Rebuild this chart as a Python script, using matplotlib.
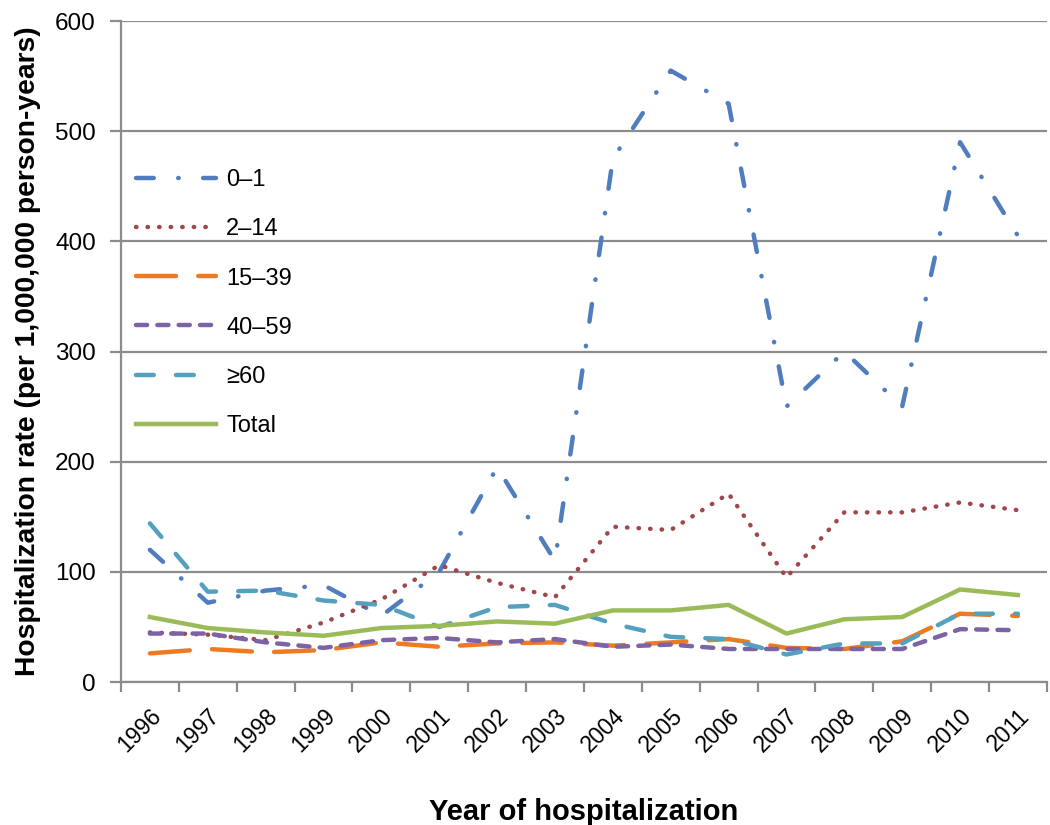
import numpy as np
import matplotlib
matplotlib.use("Agg")
import matplotlib.pyplot as plt

plt.rcParams['font.family'] = ['Liberation Sans', 'DejaVu Sans']

years = [str(y) for y in range(1996, 2012)]

age_0_1 = [120, 72, 83, 88, 60, 100, 195, 110, 475, 555, 525, 250, 300, 250, 490, 405]
age_2_14 = [45, 43, 38, 54, 75, 106, 90, 77, 141, 138, 171, 95, 154, 154, 163, 156]
age_15_39 = [26, 30, 27, 29, 36, 32, 35, 36, 33, 36, 39, 31, 30, 37, 62, 60]
age_40_59 = [44, 44, 36, 31, 38, 40, 36, 39, 32, 34, 30, 30, 30, 30, 48, 47]
age_60 = [144, 82, 83, 74, 70, 50, 68, 70, 53, 41, 39, 25, 35, 35, 62, 62]
total = [59, 49, 45, 42, 49, 51, 55, 53, 65, 65, 70, 44, 57, 59, 84, 79]

fig = plt.figure(figsize=(10.5, 8.25), dpi=100)
ax = fig.add_axes([0.1152, 0.1733, 0.8818, 0.8012])

x = np.arange(len(years))
lw = 3.2

ax.plot(x, age_0_1, color='#4F7DBE', lw=lw, dashes=(4, 5.5, 0.1, 5.5),
        dash_capstyle='round', label='0–1', zorder=3)
ax.plot(x, age_2_14, color='#A0474A', lw=lw, dashes=(0.1, 2.5),
        dash_capstyle='round', label='2–14', zorder=3)
ax.plot(x, age_15_39, color='#EE7B22', lw=lw, dashes=(9, 5),
        dash_capstyle='round', label='15–39', zorder=3)
ax.plot(x, age_40_59, color='#7C63A5', lw=lw, dashes=(2.5, 2.3),
        dash_capstyle='round', label='40–59', zorder=3)
ax.plot(x, age_60, color='#55A0BE', lw=lw, dashes=(4, 5),
        dash_capstyle='round', label='≥60', zorder=3)
ax.plot(x, total, color='#9BBB59', lw=lw, label='Total', zorder=3)

ax.set_xlim(-0.5, len(years) - 0.5)
ax.set_ylim(0, 600)
ax.set_yticks(range(0, 601, 100))
ax.yaxis.grid(True, color='#8C8C8C', lw=1.6)
ax.set_axisbelow(True)

ax.set_xticks(np.arange(-0.5, len(years), 1))
ax.set_xticklabels([])
ax.set_xticks(x, minor=True)
ax.set_xticklabels(years, minor=True, rotation=45, ha='right',
                   rotation_mode='anchor', fontsize=16.5)
ax.tick_params(axis='x', which='minor', length=0, pad=16)
ax.tick_params(axis='x', which='major', length=7, width=1.6, color='#8C8C8C')
ax.tick_params(axis='y', length=8, width=1.6, color='#8C8C8C', labelsize=17.5, pad=10)

for side in ['top', 'right']:
    ax.spines[side].set_visible(False)
for side in ['left', 'bottom']:
    ax.spines[side].set_color('#8C8C8C')
    ax.spines[side].set_linewidth(1.6)

ax.set_ylabel('Hospitalization rate (per 1,000,000 person-years)',
              fontsize=20.3, fontweight='bold', labelpad=10)
ax.set_xlabel('Year of hospitalization', fontsize=21, fontweight='bold', labelpad=30)

leg = ax.legend(loc='upper left', bbox_to_anchor=(0.006, 0.79), frameon=False,
                fontsize=17, handlelength=3.4, labelspacing=1.15,
                borderaxespad=0, handletextpad=0.42)

fig.savefig('out.png', dpi=100)
